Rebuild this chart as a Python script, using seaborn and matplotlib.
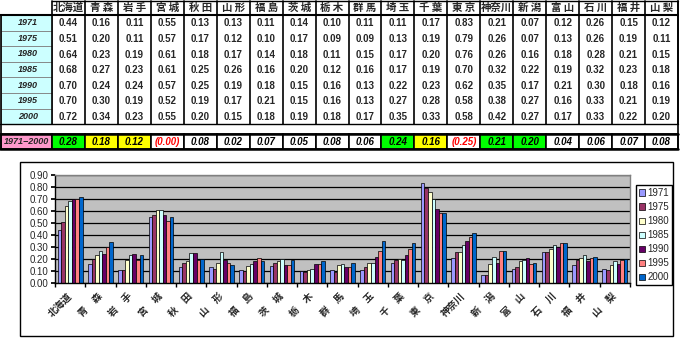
import matplotlib
matplotlib.use("Agg")
import matplotlib.pyplot as plt
import seaborn as sns
import pandas as pd
import numpy as np
from matplotlib.patches import Rectangle

# ---------------- data ----------------
prefs_table = ["北海道", "青 森", "岩 手", "宮 城", "秋 田", "山 形", "福 島", "茨 城", "栃 木",
               "群 馬", "埼 玉", "千 葉", "東 京", "神奈川", "新 潟", "富 山", "石 川", "福 井", "山 梨"]
prefs_chart = ["北海道", "青　森", "岩　手", "宮　城", "秋　田", "山　形", "福　島", "茨　城", "栃　木",
               "群　馬", "埼　玉", "千　葉", "東　京", "神奈川", "新　潟", "富　山", "石　川", "福　井", "山　梨"]
years = ["1971", "1975", "1980", "1985", "1990", "1995", "2000"]
v1971 = [0.44, 0.16, 0.11, 0.55, 0.13, 0.13, 0.11, 0.14, 0.10, 0.11, 0.11, 0.17, 0.83, 0.21, 0.07, 0.12, 0.26, 0.15, 0.12]
v1975 = [0.51, 0.20, 0.11, 0.57, 0.17, 0.12, 0.10, 0.17, 0.09, 0.09, 0.13, 0.19, 0.79, 0.26, 0.07, 0.13, 0.26, 0.19, 0.11]
v1980 = [0.64, 0.23, 0.19, 0.61, 0.18, 0.17, 0.14, 0.18, 0.11, 0.15, 0.17, 0.20, 0.76, 0.26, 0.16, 0.18, 0.28, 0.21, 0.15]
v1985 = [0.68, 0.27, 0.23, 0.61, 0.25, 0.26, 0.16, 0.20, 0.12, 0.16, 0.17, 0.19, 0.70, 0.32, 0.22, 0.19, 0.32, 0.23, 0.18]
v1990 = [0.70, 0.24, 0.24, 0.57, 0.25, 0.19, 0.18, 0.15, 0.16, 0.13, 0.22, 0.23, 0.62, 0.35, 0.17, 0.21, 0.30, 0.18, 0.16]
v1995 = [0.70, 0.30, 0.19, 0.52, 0.19, 0.17, 0.21, 0.15, 0.16, 0.13, 0.27, 0.28, 0.58, 0.38, 0.27, 0.16, 0.33, 0.21, 0.19]
v2000 = [0.72, 0.34, 0.23, 0.55, 0.20, 0.15, 0.18, 0.19, 0.18, 0.17, 0.35, 0.33, 0.58, 0.42, 0.27, 0.17, 0.33, 0.22, 0.20]
series = [v1971, v1975, v1980, v1985, v1990, v1995, v2000]
diff_label = "1971−2000"
diff_text = ["0.28", "0.18", "0.12", "(0.00)", "0.08", "0.02", "0.07", "0.05", "0.08", "0.06",
             "0.24", "0.16", "(0.25)", "0.21", "0.20", "0.04", "0.06", "0.07", "0.08"]
diff_fill = ["#00FF00", "#FFFF00", "#FFFF00", "white", "white", "white", "white", "white", "white", "white",
             "#00FF00", "#FFFF00", "white", "#00FF00", "#00FF00", "white", "white", "white", "white"]
diff_color = ["black", "black", "black", "red", "black", "black", "black", "black", "black", "black",
              "black", "black", "red", "black", "black", "black", "black", "black", "black"]
colors = ["#9999FF", "#993366", "#FFFFCC", "#CCFFFF", "#660066", "#FF8080", "#0066CC"]

rows = []
for y, vals in zip(years, series):
    for p, v in zip(prefs_chart, vals):
        rows.append({"pref": p, "year": y, "value": v})
df = pd.DataFrame(rows)

# ---------------- figure ----------------
sns.set_theme(style="white")
plt.rcParams["font.family"] = ["Noto Sans CJK JP", "DejaVu Sans"]

W, H = 680, 345
fig = plt.figure(figsize=(W / 100, H / 100), dpi=100)
fig.patch.set_facecolor("white")

# table drawn in pixel coordinates
tx = fig.add_axes([0, 0, 1, 1])
tx.set_xlim(0, W)
tx.set_ylim(H, 0)
tx.axis("off")

x0, xr = 52, 678
cw = (xr - x0) / len(prefs_table)
hdr_b = 15
rh = 15.6
tab_b = hdr_b + rh * len(years)
d_t, d_b = 134, 149

# left label cells + values
for i, y in enumerate(years):
    t = hdr_b + rh * i
    tx.add_patch(Rectangle((0.5, t), x0 - 0.5, rh, facecolor="#CCFFFF", edgecolor="#808080", lw=0.6))
    tx.text(38, t + rh / 2, y, ha="right", va="center", fontsize=6.5, fontweight="bold",
            style="italic", family=["Liberation Sans", "DejaVu Sans"])
    for j, p in enumerate(prefs_table):
        tx.text(x0 + cw * (j + 0.5), t + rh / 2 + 0.5, f"{series[i][j]:.2f}", ha="center", va="center",
                fontsize=7, fontweight="bold", family=["Liberation Sans", "DejaVu Sans"])

# header
for j, p in enumerate(prefs_table):
    tx.text(x0 + cw * (j + 0.5), hdr_b / 2 + 0.5, p, ha="center", va="center", fontsize=7.5,
            fontweight="bold")
# grid lines of table
for j in range(len(prefs_table) + 1):
    tx.plot([x0 + cw * j, x0 + cw * j], [0.5, tab_b], color="black", lw=1.2)
tx.plot([x0, xr], [0.5, 0.5], color="black", lw=1.0)
tx.plot([0, xr], [hdr_b, hdr_b], color="black", lw=1.5)
tx.plot([0, xr], [tab_b, tab_b], color="black", lw=1.0)
tx.plot([0.5, 0.5], [hdr_b, d_b], color="black", lw=1.2)
tx.plot([xr, xr], [0.5, d_b], color="black", lw=1.2)

# diff row
tx.add_patch(Rectangle((0.5, d_t), x0 - 0.5, d_b - d_t, facecolor="#FF99CC", edgecolor="black", lw=1.2))
tx.text(x0 / 2, (d_t + d_b) / 2, diff_label, ha="center", va="center", fontsize=6.5, fontweight="bold",
        style="italic", family=["Liberation Sans", "DejaVu Sans"])
for j in range(len(prefs_table)):
    tx.add_patch(Rectangle((x0 + cw * j, d_t), cw, d_b - d_t, facecolor=diff_fill[j], edgecolor="black", lw=1.2))
    tx.text(x0 + cw * (j + 0.5), (d_t + d_b) / 2 + 0.5, diff_text[j], ha="center", va="center",
            fontsize=7, fontweight="bold", style="italic", color=diff_color[j],
            family=["Liberation Sans", "DejaVu Sans"])
tx.plot([0, xr], [d_t, d_t], color="black", lw=1.8)
tx.plot([0, xr], [d_b, d_b], color="black", lw=1.8)

# chart frame
tx.add_patch(Rectangle((20, 162), 653, 174, facecolor="none", edgecolor="black", lw=1.0))

# ---------------- bar chart ----------------
pl, pr, pt, pb = 55, 630, 175, 283
ax = fig.add_axes([pl / W, 1 - pb / H, (pr - pl) / W, (pb - pt) / H])
ax.set_facecolor("#C0C0C0")
sns.barplot(data=df, x="pref", y="value", hue="year", order=prefs_chart, hue_order=years,
            palette=colors, saturation=1, edgecolor="black", linewidth=0.5, width=0.82,
            gap=0, ax=ax, legend=True)
ax.set_ylim(0, 0.9)
ax.set_xlim(-0.5, len(prefs_chart) - 0.5)
ax.set_yticks(np.arange(0, 0.91, 0.1))
ax.set_yticklabels([f"{v:.2f}" for v in np.arange(0, 0.91, 0.1)], fontsize=7,
                   family=["Liberation Sans", "DejaVu Sans"])
ax.yaxis.grid(True, color="black", lw=0.9)
ax.set_axisbelow(True)
ax.set_xlabel("")
ax.set_ylabel("")
ax.set_xticks(range(len(prefs_chart)))
ax.set_xticklabels(prefs_chart, rotation=45, ha="right", va="center", rotation_mode="anchor",
                   fontsize=7, fontweight="bold")
ax.set_xticks(np.arange(-0.5, len(prefs_chart), 1), minor=True)
ax.tick_params(axis="x", which="major", length=0, pad=8)
ax.tick_params(axis="x", which="minor", length=3, color="black", direction="out", bottom=True)
ax.tick_params(axis="y", length=3, color="black", direction="out", left=True, pad=2)
for s in ["left", "bottom"]:
    ax.spines[s].set_color("black")
    ax.spines[s].set_linewidth(1.0)
for s in ["top", "right"]:
    ax.spines[s].set_color("#808080")
    ax.spines[s].set_linewidth(1.0)

leg = ax.legend(loc="upper left", bbox_to_anchor=(636 / W, 1 - 185 / H), bbox_transform=fig.transFigure,
                frameon=True, fancybox=False, edgecolor="black", framealpha=1,
                prop={"family": ["Liberation Sans", "DejaVu Sans"], "size": 7},
                handlelength=0.6, handleheight=0.6, handletextpad=0.25, borderpad=0.3,
                labelspacing=0.42, borderaxespad=0)
leg.get_frame().set_linewidth(1.0)

fig.savefig("out.png", dpi=100, facecolor="white")
